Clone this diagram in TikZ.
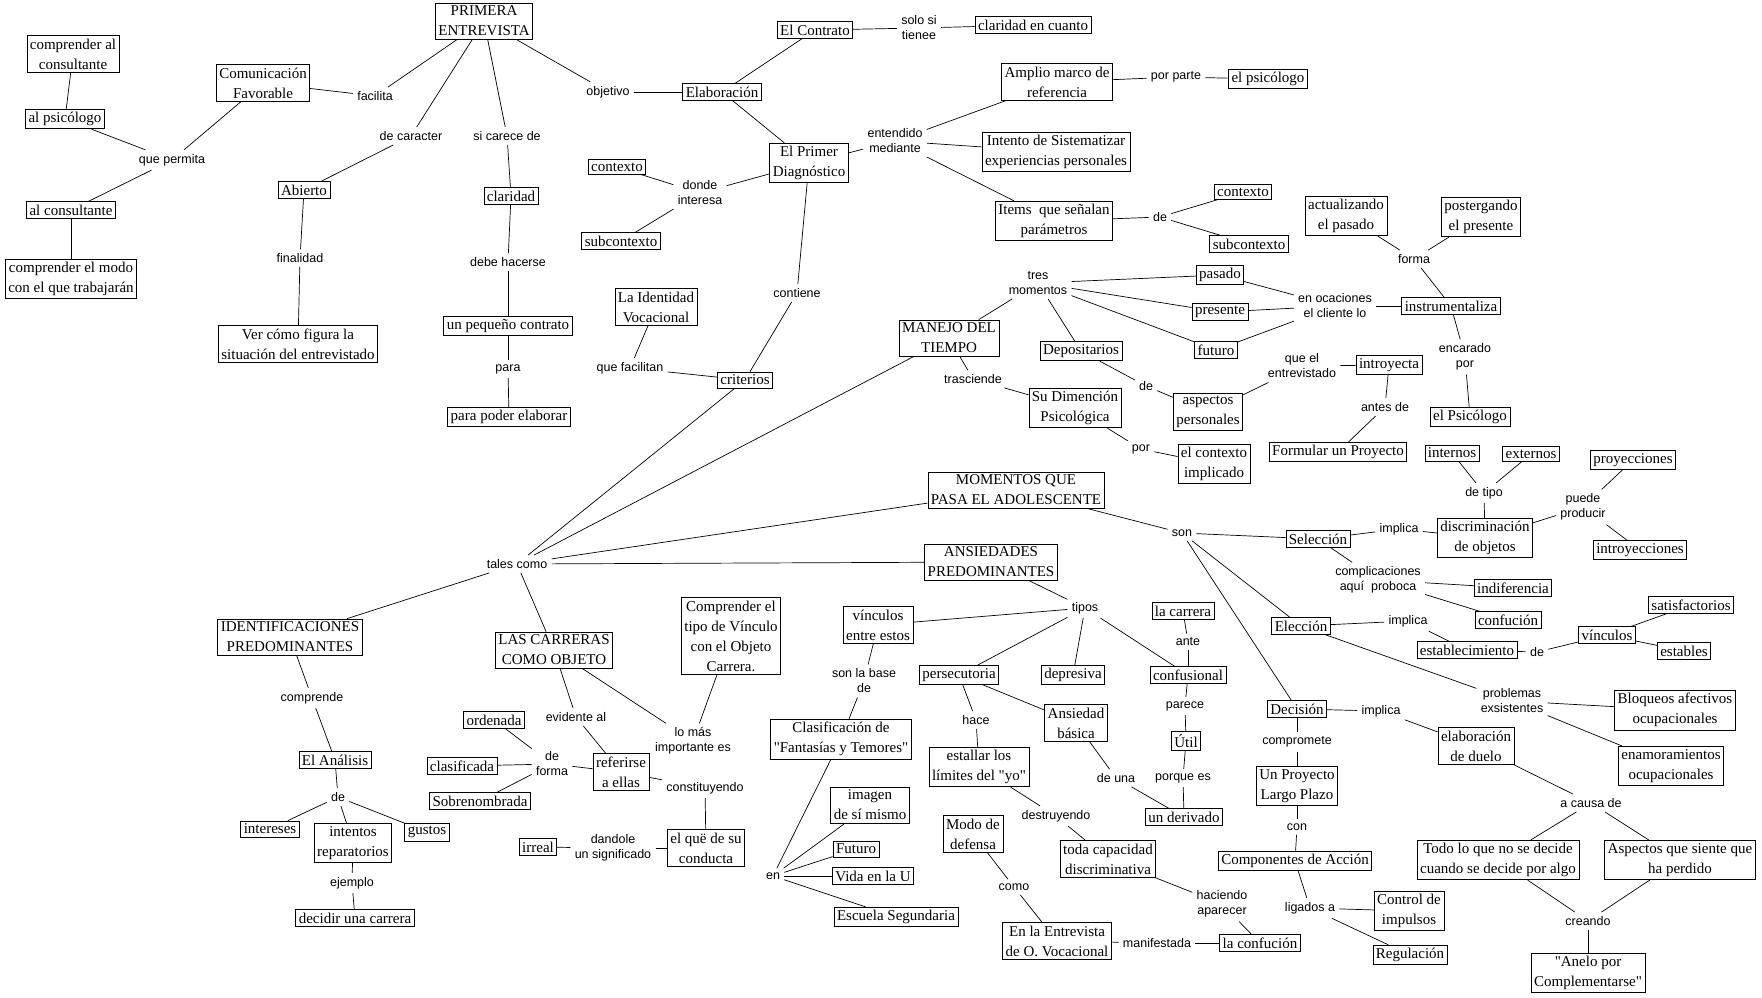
\documentclass[tikz,border=0pt]{standalone}
\usepackage{fontspec}
\setmainfont{Liberation Serif}[Ligatures=TeXOff]
\newfontfamily\labelfont{Liberation Sans}
\usepackage{tikz}

\begin{document}
\begin{tikzpicture}[x=1pt, y=-1pt, line width=0.7pt,
    concept/.style ={draw, align=center, inner xsep=3pt, inner ysep=3pt,
      font=\fontsize{15}{20}\selectfont},
    linkword/.style ={align=center, inner sep=4pt,
      font=\labelfont\fontsize{12.5}{15}\selectfont}]
   \useasboundingbox (0,0) rectangle (1762,997);

   \node[concept] (pe) at (484,21) {PRIMERA\\ENTREVISTA};
   \node[concept] (cf) at (263,83) {Comunicación\\Favorable};
   \node[concept] (cac) at (73,54) {comprender al\\consultante};
   \node[concept] (apsi) at (65,119) {al psicólogo};
   \node[concept] (acons) at (71,210) {al consultante};
   \node[concept] (cem) at (71,279) {comprender el modo\\con el que trabajarán};
   \node[concept] (abi) at (304,190) {Abierto};
   \node[concept] (vcf) at (298,344) {Ver cómo figura la\\situación del entrevistado};
   \node[concept] (cla) at (511,196) {claridad};
   \node[concept] (upc) at (508,326) {un pequeño contrato};
   \node[concept] (ppe) at (509,417) {para poder elaborar};
   \node[concept] (ela) at (722,92) {Elaboración};
   \node[concept] (con) at (815,30) {El Contrato};
   \node[concept] (cec) at (1033,25) {claridad en cuanto};
   \node[concept] (epd) at (809,163) {El Primer\\Diagnóstico};
   \node[concept] (ctxa) at (617,167) {contexto};
   \node[concept] (suba) at (621,241) {subcontexto};
   \node[concept] (amr) at (1057,82) {Amplio marco de\\referencia};
   \node[concept] (epsi) at (1268,79) {el psicólogo};
   \node[concept] (isp) at (1056,152) {Intento de Sistematizar\\experiencias personales};
   \node[concept] (iqs) at (1054,221) {Items \ que señalan\\parámetros};
   \node[concept] (ctxb) at (1243,192) {contexto};
   \node[concept] (subb) at (1249,244) {subcontexto};
   \node[concept] (liv) at (656,307) {La Identidad\\Vocacional};
   \node[concept] (cri) at (745,380) {criterios};
   \node[concept] (mdt) at (949,338) {MANEJO DEL\\TIEMPO};
   \node[concept] (pas) at (1220,275) {pasado};
   \node[concept] (pre) at (1220,312) {presente};
   \node[concept] (fut) at (1216,350) {futuro};
   \node[concept] (dep) at (1081,351) {Depositarios};
   \node[concept] (act) at (1346,216) {actualizando\\el pasado};
   \node[concept] (pos) at (1481,217) {postergando\\el presente};
   \node[concept] (ins) at (1451,306) {instrumentaliza};
   \node[concept] (elpsi) at (1470,417) {el Psicólogo};
   \node[concept] (asp) at (1208,412) {aspectos\\personales};
   \node[concept] (intr) at (1389,365) {introyecta};
   \node[concept] (fup) at (1338,452) {Formular un Proyecto};
   \node[concept] (sdp) at (1075,408) {Su Dimención\\Psicológica};
   \node[concept] (eci) at (1214,464) {el contexto\\implicado};
   \node[concept] (mqp) at (1016,490) {MOMENTOS QUE\\PASA EL ADOLESCENTE};
   \node[concept] (sel) at (1318,539) {Selección};
   \node[concept] (dis) at (1485,538) {discriminación\\de objetos};
   \node[concept] (inte) at (1452,453) {internos};
   \node[concept] (exte) at (1531,454) {externos};
   \node[concept] (pro) at (1633,460) {proyecciones};
   \node[concept] (intro) at (1640,550) {introyecciones};
   \node[concept] (ind) at (1513,588) {indiferencia};
   \node[concept] (cnfa) at (1508,620) {confución};
   \node[concept] (elec) at (1301,626) {Elección};
   \node[concept] (esta) at (1467,650) {establecimiento};
   \node[concept] (vinb) at (1607,635) {vínculos};
   \node[concept] (sat) at (1691,605) {satisfactorios};
   \node[concept] (estb) at (1684,651) {estables};
   \node[concept] (blo) at (1675,710) {Bloqueos afectivos\\ocupacionales};
   \node[concept] (ena) at (1671,766) {enamoramientos\\ocupacionales};
   \node[concept] (dec) at (1297,709) {Decisión};
   \node[concept] (edu) at (1476,746) {elaboración\\de duelo};
   \node[concept] (tlq) at (1498,860) {Todo lo que no se decide\\cuando se decide por algo};
   \node[concept] (aqs) at (1680,860) {Aspectos que siente que\\ha perdido};
   \node[concept] (anel) at (1588,973) {"Anelo por\\Complementarse"};
   \node[concept] (uplp) at (1297,786) {Un Proyecto\\Largo Plazo};
   \node[concept] (cda) at (1295,861) {Componentes de Acción};
   \node[concept] (cdi) at (1409,911) {Control de\\impulsos};
   \node[concept] (reg) at (1410,955) {Regulación};
   \node[concept] (ans) at (991,562) {ANSIEDADES\\PREDOMINANTES};
   \node[concept] (lcar) at (1183,611) {la carrera};
   \node[concept] (vee) at (878,625) {vínculos\\entre estos};
   \node[concept] (per) at (959,675) {persecutoria};
   \node[concept] (depr) at (1073,675) {depresiva};
   \node[concept] (cnf) at (1188,675) {confusional};
   \node[concept] (ab) at (1076,723) {Ansiedad\\básica};
   \node[concept] (util) at (1186,741) {Útil};
   \node[concept] (eli) at (979,767) {estallar los\\límites del "yo"};
   \node[concept] (uder) at (1184,817) {un derivado};
   \node[concept] (mdd) at (973,834) {Modo de\\defensa};
   \node[concept] (tcd) at (1108,859) {toda capacidad\\discriminativa};
   \node[concept] (eev) at (1057,941) {En la Entrevista\\de O. Vocacional};
   \node[concept] (lcf) at (1260,943) {la confución};
   \node[concept] (cft) at (841,739) {Clasificación de\\"Fantasías y Temores"};
   \node[concept] (ism) at (870,805) {imagen\\de sí mismo};
   \node[concept] (fu) at (856,849) {Futuro};
   \node[concept] (vlu) at (873,876) {Vida en la U};
   \node[concept] (esc) at (896,917) {Escuela Segundaria};
   \node[concept] (idp) at (290,637) {IDENTIFICACIONES\\PREDOMINANTES};
   \node[concept] (ean) at (335,760) {El Análisis};
   \node[concept] (intz) at (270,829) {intereses};
   \node[concept] (irep) at (353,843) {intentos\\reparatorios};
   \node[concept] (gus) at (427,832) {gustos};
   \node[concept] (ddc) at (355,918) {decidir una carrera};
   \node[concept] (lco) at (554,650) {LAS CARRERAS\\COMO OBJETO};
   \node[concept] (ord) at (494,720) {ordenada};
   \node[concept] (cls) at (462,766) {clasificada};
   \node[concept] (sob) at (480,801) {Sobrenombrada};
   \node[concept] (ref) at (621,772) {referirse\\a ellas};
   \node[concept] (ctv) at (731,636) {Comprender el\\tipo de Vínculo\\con el Objeto\\Carrera.};
   \node[concept] (irr) at (538,847) {irreal};
   \node[concept] (eqc) at (706,848) {el quë de su\\conducta};

   \node[linkword] (lfac) at (375,96) {facilita};
   \node[linkword] (lqp) at (172,160) {que permita};
   \node[linkword] (ldc) at (411,136) {de caracter};
   \node[linkword] (lfin) at (300,258) {finalidad};
   \node[linkword] (lsc) at (507,136) {si carece de};
   \node[linkword] (ldh) at (508,262) {debe hacerse};
   \node[linkword] (lpara) at (508,369) {para};
   \node[linkword] (lobj) at (608,92) {objetivo};
   \node[linkword] (lssi) at (919,28) {solo si\\tienee};
   \node[linkword] (lem) at (895,141) {entendido\\mediante};
   \node[linkword] (lpp) at (1176,77) {por parte};
   \node[linkword] (ldea) at (1160,217) {de};
   \node[linkword] (ldi) at (700,193) {donde\\interesa};
   \node[linkword] (lcont) at (797,293) {contiene};
   \node[linkword] (lqf) at (630,368) {que facilitan};
   \node[linkword] (ltc) at (517,564) {tales como};
   \node[linkword] (ltm) at (1038,283) {tres\\momentos};
   \node[linkword] (leo) at (1335,306) {en ocaciones\\el cliente lo};
   \node[linkword] (lfor) at (1414,259) {forma};
   \node[linkword] (lep) at (1465,357) {encarado\\por};
   \node[linkword] (lqe) at (1302,366) {que el\\entrevistado};
   \node[linkword] (lad) at (1385,407) {antes de};
   \node[linkword] (ldeb) at (1146,386) {de};
   \node[linkword] (ltr) at (973,379) {trasciende};
   \node[linkword] (lpor) at (1141,449) {por};
   \node[linkword] (lson) at (1182,533) {son};
   \node[linkword] (limpa) at (1399,529) {implica};
   \node[linkword] (ldt) at (1484,493) {de tipo};
   \node[linkword] (lpup) at (1583,507) {puede\\producir};
   \node[linkword] (lcom) at (1378,580) {complicaciones\\aquí \ proboca};
   \node[linkword] (limpb) at (1408,621) {implica};
   \node[linkword] (ldec) at (1537,652) {de};
   \node[linkword] (lpe) at (1512,701) {problemas\\exsistentes};
   \node[linkword] (limpc) at (1381,711) {implica};
   \node[linkword] (lacd) at (1591,803) {a causa de};
   \node[linkword] (lcre) at (1588,921) {creando};
   \node[linkword] (lcomp) at (1297,742) {compromete};
   \node[linkword] (lcon) at (1297,827) {con};
   \node[linkword] (lla) at (1310,908) {ligados a};
   \node[linkword] (ltip) at (1085,608) {tipos};
   \node[linkword] (lante) at (1188,642) {ante};
   \node[linkword] (lpar) at (1185,706) {parece};
   \node[linkword] (lpq) at (1183,778) {porque es};
   \node[linkword] (ldu) at (1116,778) {de una};
   \node[linkword] (lhace) at (976,720) {hace};
   \node[linkword] (ldes) at (1056,816) {destruyendo};
   \node[linkword] (lha) at (1222,904) {haciendo\\aparecer};
   \node[linkword] (lcomo) at (1014,887) {como};
   \node[linkword] (lman) at (1157,943) {manifestada};
   \node[linkword] (lslb) at (864,681) {son la base\\de};
   \node[linkword] (len) at (773,876) {en};
   \node[linkword] (lcpr) at (312,698) {comprende};
   \node[linkword] (lded) at (338,797) {de};
   \node[linkword] (lej) at (352,883) {ejemplo};
   \node[linkword] (lev) at (576,717) {evidente al};
   \node[linkword] (ldf) at (552,764) {de\\forma};
   \node[linkword] (llm) at (693,741) {lo más\\importante es};
   \node[linkword] (lcst) at (705,788) {constituyendo};
   \node[linkword] (lds) at (613,848) {dandole\\un significado};

   \draw (pe) to (lfac);
   \draw (lfac) to (cf);
   \draw (cf) to (lqp);
   \draw (lqp) to (apsi);
   \draw (lqp) to (acons);
   \draw (cac) to (apsi);
   \draw (acons) to (cem);
   \draw (pe) to (ldc);
   \draw (ldc) to (abi);
   \draw (abi) to (lfin);
   \draw (lfin) to (vcf);
   \draw (pe) to (lsc);
   \draw (lsc) to (cla);
   \draw (cla) to (ldh);
   \draw (ldh) to (upc);
   \draw (upc) to (lpara);
   \draw (lpara) to (ppe);
   \draw (pe) to (lobj);
   \draw (lobj) to (ela);
   \draw (ela) to (con);
   \draw (con) to (lssi);
   \draw (lssi) to (cec);
   \draw (ela) to (epd);
   \draw (epd) to (lem);
   \draw (lem) to (amr);
   \draw (lem) to (isp);
   \draw (lem) to (iqs);
   \draw (amr) to (lpp);
   \draw (lpp) to (epsi);
   \draw (iqs) to (ldea);
   \draw (ldea) to (ctxb);
   \draw (ldea) to (subb);
   \draw (epd) to (ldi);
   \draw (ldi) to (ctxa);
   \draw (ldi) to (suba);
   \draw (epd) to (lcont);
   \draw (lcont) to (cri);
   \draw (cri) to (lqf);
   \draw (lqf) to (liv);
   \draw (cri) to (ltc);
   \draw (ltc) to (mdt);
   \draw (ltc) to (mqp);
   \draw (ltc) to (ans);
   \draw (ltc) to (idp);
   \draw (ltc) to (lco);
   \draw (mdt) to (ltm);
   \draw (ltm) to (pas);
   \draw (ltm) to (pre);
   \draw (ltm) to (fut);
   \draw (ltm) to (dep);
   \draw (pas) to (leo);
   \draw (pre) to (leo);
   \draw (fut) to (leo);
   \draw (leo) to (ins);
   \draw (ins) to (lfor);
   \draw (lfor) to (act);
   \draw (lfor) to (pos);
   \draw (ins) to (lep);
   \draw (lep) to (elpsi);
   \draw (dep) to (ldeb);
   \draw (ldeb) to (asp);
   \draw (asp) to (lqe);
   \draw (lqe) to (intr);
   \draw (intr) to (lad);
   \draw (lad) to (fup);
   \draw (mdt) to (ltr);
   \draw (ltr) to (sdp);
   \draw (sdp) to (lpor);
   \draw (lpor) to (eci);
   \draw (mqp) to (lson);
   \draw (lson) to (sel);
   \draw (lson) to (elec);
   \draw (lson) to (dec);
   \draw (sel) to (limpa);
   \draw (limpa) to (dis);
   \draw (dis) to (ldt);
   \draw (ldt) to (inte);
   \draw (ldt) to (exte);
   \draw (dis) to (lpup);
   \draw (lpup) to (pro);
   \draw (lpup) to (intro);
   \draw (sel) to (lcom);
   \draw (lcom) to (ind);
   \draw (lcom) to (cnfa);
   \draw (elec) to (limpb);
   \draw (limpb) to (esta);
   \draw (esta) to (ldec);
   \draw (ldec) to (vinb);
   \draw (vinb) to (sat);
   \draw (vinb) to (estb);
   \draw (elec) to (lpe);
   \draw (lpe) to (blo);
   \draw (lpe) to (ena);
   \draw (dec) to (limpc);
   \draw (limpc) to (edu);
   \draw (edu) to (lacd);
   \draw (lacd) to (tlq);
   \draw (lacd) to (aqs);
   \draw (tlq) to (lcre);
   \draw (aqs) to (lcre);
   \draw (lcre) to (anel);
   \draw (dec) to (lcomp);
   \draw (lcomp) to (uplp);
   \draw (uplp) to (lcon);
   \draw (lcon) to (cda);
   \draw (cda) to (lla);
   \draw (lla) to (cdi);
   \draw (lla) to (reg);
   \draw (ans) to (ltip);
   \draw (ltip) to (vee);
   \draw (ltip) to (per);
   \draw (ltip) to (depr);
   \draw (ltip) to (cnf);
   \draw (cnf) to (lante);
   \draw (lante) to (lcar);
   \draw (cnf) to (lpar);
   \draw (lpar) to (util);
   \draw (util) to (lpq);
   \draw (lpq) to (uder);
   \draw (per) to (ab);
   \draw (ab) to (ldu);
   \draw (ldu) to (uder);
   \draw (per) to (lhace);
   \draw (lhace) to (eli);
   \draw (eli) to (ldes);
   \draw (ldes) to (tcd);
   \draw (tcd) to (lha);
   \draw (lha) to (lcf);
   \draw (mdd) to (lcomo);
   \draw (lcomo) to (eev);
   \draw (eev) to (lman);
   \draw (lman) to (lcf);
   \draw (vee) to (lslb);
   \draw (lslb) to (cft);
   \draw (cft) to (len);
   \draw (len) to (ism);
   \draw (len) to (fu);
   \draw (len) to (vlu);
   \draw (len) to (esc);
   \draw (idp) to (lcpr);
   \draw (lcpr) to (ean);
   \draw (ean) to (lded);
   \draw (lded) to (intz);
   \draw (lded) to (irep);
   \draw (lded) to (gus);
   \draw (irep) to (lej);
   \draw (lej) to (ddc);
   \draw (lco) to (lev);
   \draw (lev) to (ref);
   \draw (ref) to (ldf);
   \draw (ldf) to (ord);
   \draw (ldf) to (cls);
   \draw (ldf) to (sob);
   \draw (lco) to (llm);
   \draw (llm) to (ctv);
   \draw (ref) to (lcst);
   \draw (lcst) to (eqc);
   \draw (eqc) to (lds);
   \draw (lds) to (irr);
 \end{tikzpicture}
\end{document}
